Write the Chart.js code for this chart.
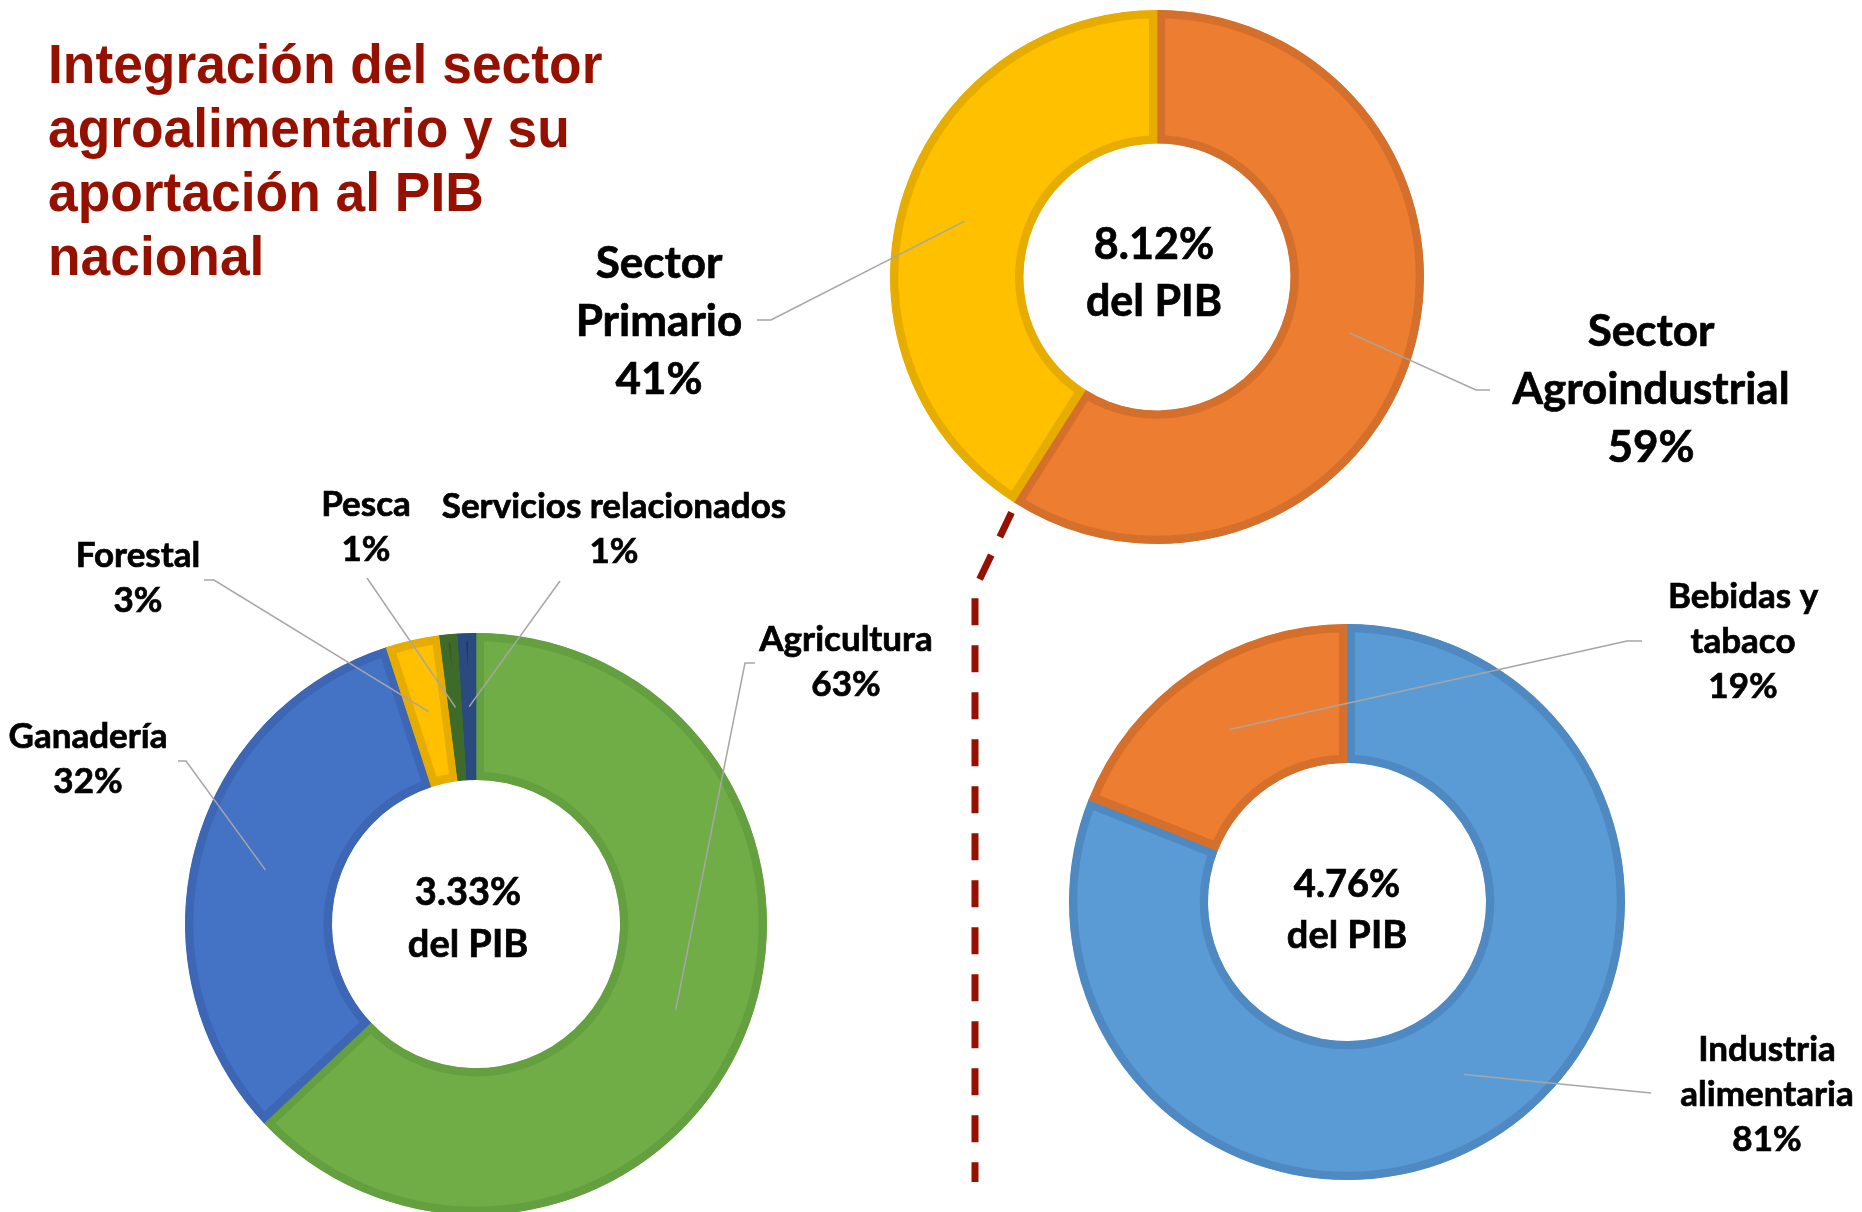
<!DOCTYPE html>
<html>
<head>
<meta charset="utf-8">
<script src="https://cdn.jsdelivr.net/npm/chart.js@4/dist/chart.umd.min.js"></script>
<style>
  html, body { margin: 0; width: 1862px; height: 1212px; overflow: hidden; background: #fff; }
  canvas.layer { position: absolute; left: 0; top: 0; }
  #title {
    position: absolute; left: 48px; top: 32px; margin: 0;
    font: bold 55px "Liberation Sans Narrow", "Arial Narrow", sans-serif;
    line-height: 64px; color: #961000;
    transform: scaleX(0.97); transform-origin: left top;
  }
</style>
</head>
<body>
<h1 id="title">Integración del sector<br>agroalimentario y su<br>aportación al PIB<br>nacional</h1>
<canvas id="sector" class="layer" width="1862" height="1212"></canvas>
<canvas id="primary" class="layer" width="1862" height="1212"></canvas>
<canvas id="agro" class="layer" width="1862" height="1212"></canvas>
<script>
// data, in % of each group
const sectorLabels = [["Sector", "Agroindustrial"], ["Sector", "Primario"]];
const sectorValues = [59, 41];
const primaryLabels = [["Agricultura"], ["Ganadería"], ["Forestal"], ["Pesca"], ["Servicios relacionados"]];
const primaryValues = [63, 32, 3, 1, 1];
const agroLabels = [["Industria", "alimentaria"], ["Bebidas y", "tabaco"]];
const agroValues = [81, 19];
// share of national GDP: sector total, primary, agroindustrial
const pibShares = [8.12, 3.33, 4.76];

const W = 1862, H = 1212;

// padding that puts the doughnut centre at (cx, cy)
function padFor(cx, cy) {
  return {
    left: Math.max(0, 2 * cx - W), right: Math.max(0, W - 2 * cx),
    top: Math.max(0, 2 * cy - H), bottom: Math.max(0, H - 2 * cy)
  };
}

function boldText(ctx, t, x, y) {
  ctx.strokeText(t, x, y);
  ctx.fillText(t, x, y);
}

const donutLabels = {
  id: "donutLabels",
  afterDatasetsDraw(chart, args, opts) {
    const ctx = chart.ctx;
    const arcs = chart.getDatasetMeta(0).data;
    const values = chart.data.datasets[0].data;
    ctx.save();
    ctx.textAlign = "center";
    ctx.textBaseline = "middle";
    ctx.fillStyle = "#000";

    arcs.forEach((arc, i) => {
      const p = opts.items[i];
      const start = arc.tooltipPosition();
      ctx.strokeStyle = "#a6a6a6";
      ctx.lineWidth = 1.5;
      ctx.beginPath();
      ctx.moveTo(start.x, start.y);
      ctx.lineTo(p.elbow[0], p.elbow[1]);
      if (p.end) ctx.lineTo(p.end[0], p.end[1]);
      ctx.stroke();

      const lines = [].concat(chart.data.labels[i], values[i] + "%");
      ctx.font = "bold " + opts.size + "px Lato";
      ctx.strokeStyle = "#000";
      ctx.lineWidth = 0.7;
      lines.forEach((t, k) => boldText(ctx, t, p.x, p.y + k * opts.lineHeight));
    });

    // centre text
    const c = arcs[0];
    ctx.font = "bold " + opts.centerSize + "px Lato";
    ctx.strokeStyle = "#000";
    ctx.lineWidth = 0.7;
    boldText(ctx, opts.share.toFixed(2) + "%", c.x + opts.centerDx, c.y - opts.centerGap / 2 + opts.centerDy);
    boldText(ctx, "del PIB", c.x + opts.centerDx, c.y + opts.centerGap / 2 + opts.centerDy);

    // dashed connector from the primary/agro boundary of the top ring
    if (opts.connector) {
      const a = arcs[1];
      const ang = a.startAngle;
      const r = a.outerRadius + 12;
      ctx.strokeStyle = "#961000";
      ctx.lineWidth = 7;
      ctx.setLineDash([27, 20]);
      ctx.beginPath();
      ctx.moveTo(a.x + Math.cos(ang) * r + 4, a.y + Math.sin(ang) * r);
      ctx.lineTo(opts.connector[0], opts.connector[1]);
      ctx.lineTo(opts.connector[0], opts.connector[2]);
      ctx.stroke();
    }
    ctx.restore();
  }
};

function makeDonut(id, labels, values, colors, borders, radius, cutout, center, labelOpts) {
  return new Chart(document.getElementById(id), {
    type: "doughnut",
    data: {
      labels: labels,
      datasets: [{
        data: values,
        backgroundColor: colors,
        borderColor: borders,
        borderWidth: 8,
        borderAlign: "inner",
        clip: false
      }]
    },
    options: {
      responsive: false,
      animation: false,
      events: [],
      radius: radius,
      cutout: cutout,
      layout: { padding: padFor(center[0], center[1]) },
      plugins: {
        legend: { display: false },
        tooltip: { enabled: false },
        donutLabels: labelOpts
      }
    },
    plugins: [donutLabels]
  });
}

document.fonts.ready.then(() => {
  makeDonut("sector", sectorLabels, sectorValues,
    ["#ed7d31", "#ffc000"], ["#d4702c", "#e6ad00"],
    267, "50%", [1157, 277], {
      size: 44, lineHeight: 58, centerSize: 43, centerGap: 57, centerDx: -3, centerDy: -3,
      share: pibShares[0],
      items: [
        { x: 1651, y: 332, elbow: [1476, 390], end: [1490, 390] },
        { x: 659, y: 264, elbow: [771, 320], end: [757, 320] }
      ],
      connector: [975, 589, 1182]
    });

  makeDonut("primary", primaryLabels, primaryValues,
    ["#70ad47", "#4472c4", "#ffc000", "#385723", "#203864"],
    ["#64a03f", "#3d66b5", "#e6ad00", "#3f6b2a", "#2a4a80"],
    291, "49.5%", [476, 924], {
      size: 35, lineHeight: 45, centerSize: 38, centerGap: 52, centerDx: -8, centerDy: -5,
      share: pibShares[1],
      items: [
        { x: 846, y: 640, elbow: [745, 663], end: [755, 663] },
        { x: 88, y: 737, elbow: [186, 761], end: [178, 761] },
        { x: 138, y: 556, elbow: [214, 580], end: [204, 580] },
        { x: 366, y: 505, elbow: [367, 578] },
        { x: 614, y: 507, elbow: [560, 581] }
      ]
    });

  makeDonut("agro", agroLabels, agroValues,
    ["#5b9bd5", "#ed7d31"], ["#4f89c2", "#d4702c"],
    278, "50%", [1347, 902], {
      size: 35, lineHeight: 45, centerSize: 38, centerGap: 51, centerDx: 0, centerDy: 8,
      share: pibShares[2],
      items: [
        { x: 1767, y: 1050, elbow: [1651, 1093] },
        { x: 1743, y: 597, elbow: [1627, 641], end: [1642, 641] }
      ]
    });
});
</script>
</body>
</html>
